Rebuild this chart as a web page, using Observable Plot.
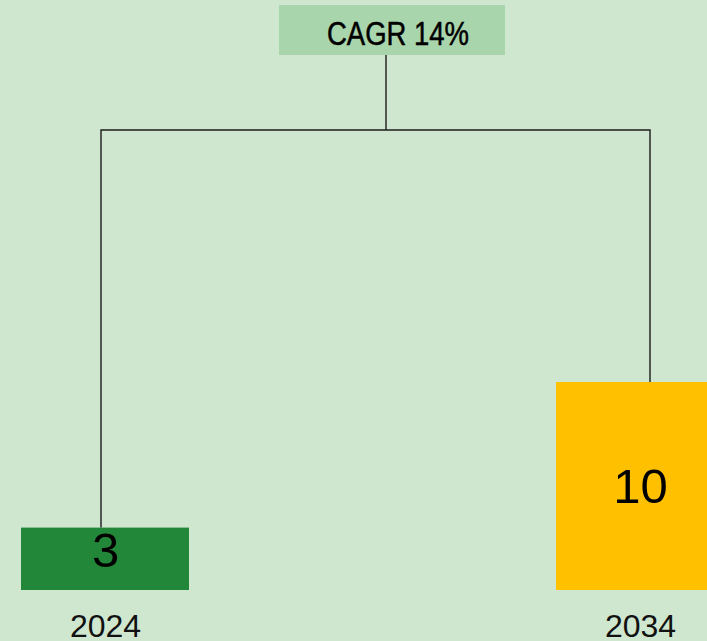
<!DOCTYPE html>
<html>
<head>
<meta charset="utf-8">
<script src="https://cdn.jsdelivr.net/npm/d3@7"></script>
<script src="https://cdn.jsdelivr.net/npm/@observablehq/plot@0.6"></script>
<style>
  html, body { margin: 0; padding: 0; background: #cfe7cf; overflow: hidden; }
  #chart svg { display: block; }
</style>
</head>
<body>
<div id="chart"></div>
<script>
// ---- data ----
const years = ["2024", "2034"];
const values = [3, 10];
const barColors = ["#238739", "#ffc000"];
const cagrLabel = "CAGR 14%";

const data = years.map((year, i) => ({ year, value: values[i], color: barColors[i] }));

const bg = "#cfe7cf";

const plot = Plot.plot({
  width: 707,
  height: 641,
  marginTop: 0,
  marginLeft: 0,
  marginRight: 0,
  marginBottom: 51,
  style: { background: bg, overflow: "hidden", fontFamily: "Liberation Sans, Arial, sans-serif" },
  x: { domain: years, range: [21, 724], paddingInner: 0.686, paddingOuter: 0, axis: null },
  y: { domain: [0, 10], range: [590, 382], axis: null },
  marks: [
    Plot.barY(data, { x: "year", y: "value", fill: "color" }),
    Plot.text(data.filter(d => d.value < 5), {
      x: "year", y: d => d.value / 2, text: d => String(d.value),
      fontSize: 49, fill: "#000", dy: -8
    }),
    Plot.text(data.filter(d => d.value >= 5), {
      x: "year", y: d => d.value / 2, text: d => String(d.value),
      fontSize: 49, fill: "#000", dy: 1
    }),
    Plot.text(data, {
      x: "year", y: () => 0, text: "year",
      fontSize: 32, fill: "#111", dy: 36
    })
  ]
});

document.getElementById("chart").appendChild(plot);

// ---- CAGR bracket annotation, placed from the plot's scales ----
const xs = plot.scale("x");
const ys = plot.scale("y");
const bw = xs.bandwidth;
const cx = yr => xs.apply(yr) + bw / 2;
const svg = d3.select(plot);

const leftX = cx(years[0]) - 4;
const rightX = cx(years[1]) + 10;
const topY = ys.apply(10) - 252;
const boxBottom = topY - 75;
const boxTop = boxBottom - 50;
const stemX = (leftX + rightX) / 2 + 10.5;
const boxCx = stemX + 6;
const boxW = 226;

const g = svg.append("g").attr("fill", "none").attr("stroke", "#1c1c1c").attr("stroke-width", 1.4);
g.append("path").attr("d",
  `M${leftX},${ys.apply(values[0])} V${topY} H${rightX} V${ys.apply(values[1])}`);
g.append("path").attr("d", `M${stemX},${boxBottom} V${topY}`);

svg.append("rect")
  .attr("x", boxCx - boxW / 2).attr("y", boxTop)
  .attr("width", boxW).attr("height", boxBottom - boxTop)
  .attr("fill", "#a8d5ab");
svg.append("text")
  .attr("x", boxCx + 6).attr("y", (boxTop + boxBottom) / 2 + 3)
  .attr("dy", "0.36em")
  .attr("text-anchor", "middle")
  .attr("font-family", "Liberation Sans Narrow, Arial Narrow, sans-serif")
  .attr("font-size", 33)
  .attr("textLength", 142)
  .attr("lengthAdjust", "spacingAndGlyphs")
  .attr("fill", "#000")
  .attr("stroke", "#000")
  .attr("stroke-width", 0.5)
  .text(cagrLabel);
</script>
</body>
</html>
